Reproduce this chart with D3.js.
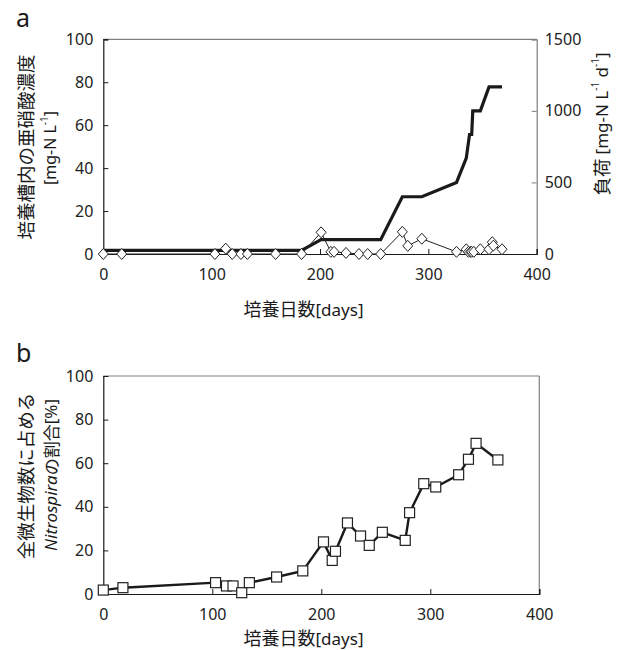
<!DOCTYPE html>
<html><head><meta charset="utf-8">
<script src="https://cdn.jsdelivr.net/npm/d3@7"></script>
<style>
body{margin:0;background:#fff;}
svg{display:block;font-family:"Noto Sans CJK JP","Noto Sans",sans-serif;}
</style></head>
<body>
<svg id="c" width="618" height="650"></svg>
<script>
// Panel a: nitrite concentration (left axis) and load (right axis)
const nitriteDays   = [0,17,103,113,119,127,133,159,183,201,210,213,224,236,244,256,276,281,294,326,335,337,339,340,342,348,356,359,360,368];
const nitriteValues = [0,0,0,2.5,0,0,0,0,0,10.1,1,1,0.5,0,0,0,10.3,3.8,7.1,1,2.2,1,1,1,1,2.2,2.2,5.5,3.9,2.2];
const loadDays   = [0,183,201,256,276,294,326,335,338,340,341,348,356,368];
const loadValues = [25,25,100,100,400,400,500,670,835,835,1000,1000,1167,1167];
// Panel b: Nitrospira share
const nsDays   = [0,18,103,113,119,127,134,159,183,202,210,213,224,236,244,256,277,281,294,305,326,335,342,362];
const nsValues = [1.8,2.9,5.2,3.7,3.7,0.6,5.2,7.8,10.6,23.9,15.4,19.6,32.6,26.6,22.3,28.3,24.6,37.3,50.6,49.1,54.7,61.8,69.1,61.5];
// Ticks
const xTicks = [0,100,200,300,400];
const yTicks = [0,20,40,60,80,100];
const yRTicks = [0,500,1000,1500];

const svg = d3.select("#c");
const FRAME = "#7f7f7f", AX = "#1a1a1a";

function styleAxis(g){
  g.select(".domain").attr("stroke",AX).attr("stroke-width",1.2);
  g.selectAll(".tick line").attr("stroke",AX).attr("stroke-width",1);
  g.selectAll(".tick text").attr("font-size",16).attr("fill","#222")
   .attr("font-family","'Noto Sans','Noto Sans CJK JP',sans-serif");
}

// ---------- Panel a ----------
const xa = d3.scaleLinear().domain([0,400]).range([103.3,536.7]);
const ya = d3.scaleLinear().domain([0,100]).range([254,39.3]);
const yr = d3.scaleLinear().domain([0,1500]).range([254,39.3]);

// frame top & right
svg.append("line").attr("x1",xa(0)).attr("x2",xa(400)).attr("y1",ya(100)).attr("y2",ya(100)).attr("stroke",FRAME).attr("stroke-width",1.2);
const gR = svg.append("g").attr("transform",`translate(${xa(400)},0)`)
  .call(d3.axisRight(yr).tickValues(yRTicks).tickSize(-5).tickPadding(8).tickFormat(d3.format("d")));
styleAxis(gR);
gR.select(".domain").attr("stroke",FRAME);
gR.selectAll(".tick line").attr("stroke",FRAME);

const gLa = svg.append("g").attr("transform",`translate(${xa(0)},0)`)
  .call(d3.axisLeft(ya).tickValues(yTicks).tickSize(-5).tickPadding(10));
styleAxis(gLa);
const gBa = svg.append("g").attr("transform",`translate(0,${ya(0)})`)
  .call(d3.axisBottom(xa).tickValues(xTicks).tickSize(-5).tickPadding(15));
styleAxis(gBa);

// load line (thick)
const loadLine = d3.line().x((d,i)=>xa(loadDays[i])).y((d,i)=>yr(loadValues[i]));
svg.append("path").datum(loadValues).attr("d",loadLine).attr("fill","none")
  .attr("stroke","#1a1a1a").attr("stroke-width",3.2).attr("stroke-linejoin","miter");

// nitrite line (thin) + diamonds
const nLine = d3.line().x((d,i)=>xa(nitriteDays[i])).y((d,i)=>ya(nitriteValues[i]));
svg.append("path").datum(nitriteValues).attr("d",nLine).attr("fill","none")
  .attr("stroke","#222").attr("stroke-width",1);
svg.append("g").selectAll("path").data(nitriteValues).join("path")
  .attr("transform",(d,i)=>`translate(${xa(nitriteDays[i])},${ya(d)})`)
  .attr("d","M0,-5.5L5,0L0,5.5L-5,0Z")
  .attr("fill","#fff").attr("stroke","#222").attr("stroke-width",1);

// ---------- Panel b ----------
const xb = d3.scaleLinear().domain([0,400]).range([103.3,539.3]);
const yb = d3.scaleLinear().domain([0,100]).range([594,376]);
svg.append("line").attr("x1",xb(0)).attr("x2",xb(400)).attr("y1",yb(100)).attr("y2",yb(100)).attr("stroke",FRAME).attr("stroke-width",1.2);
svg.append("line").attr("x1",xb(400)).attr("x2",xb(400)).attr("y1",yb(100)).attr("y2",yb(0)).attr("stroke",FRAME).attr("stroke-width",1.2);
const gLb = svg.append("g").attr("transform",`translate(${xb(0)},0)`)
  .call(d3.axisLeft(yb).tickValues(yTicks).tickSize(-5).tickPadding(10));
styleAxis(gLb);
const gBb = svg.append("g").attr("transform",`translate(0,${yb(0)})`)
  .call(d3.axisBottom(xb).tickValues(xTicks).tickSize(-5).tickPadding(15));
styleAxis(gBb);

const nsLine = d3.line().x((d,i)=>xb(nsDays[i])).y((d,i)=>yb(nsValues[i]));
svg.append("path").datum(nsValues).attr("d",nsLine).attr("fill","none")
  .attr("stroke","#1a1a1a").attr("stroke-width",2.4);
svg.append("g").selectAll("rect").data(nsValues).join("rect")
  .attr("x",(d,i)=>xb(nsDays[i])-5).attr("y",d=>yb(d)-5)
  .attr("width",10).attr("height",10)
  .attr("fill","#fff").attr("stroke","#222").attr("stroke-width",1.2);

// ---------- Text ----------
const T = "#1a1a1a";
svg.append("text").attr("x",16).attr("y",27).attr("font-size",25).attr("fill",T)
  .attr("font-family","'Noto Sans',sans-serif").text("a");
svg.append("text").attr("x",16).attr("y",362).attr("font-size",25).attr("fill",T)
  .attr("font-family","'Noto Sans',sans-serif").text("b");

function xTitle(y){
  const t = svg.append("text").attr("x",303.5).attr("y",y).attr("text-anchor","middle")
    .attr("font-size",18).attr("fill",T);
  t.append("tspan").text("培養日数");
  t.append("tspan").attr("font-family","'Noto Sans',sans-serif").attr("font-size",17).text("[days]");
}
xTitle(316);
xTitle(645);

function rot(cx,cy,size,angle){
  return svg.append("text").attr("transform",`translate(${cx},${cy}) rotate(${angle})`)
    .attr("text-anchor","middle").attr("dominant-baseline","central")
    .attr("font-size",size).attr("fill",T);
}
// panel a left title
rot(25,147,18.5,-90).text("培養槽内の亜硝酸濃度");
{
  const t = rot(50,148,16,-90).attr("font-family","'Noto Sans',sans-serif");
  t.append("tspan").text("[mg-N L");
  t.append("tspan").attr("font-size",10).attr("dy",-6).text("-1");
  t.append("tspan").attr("dy",6).text("]");
}
// panel a right title
{
  const t = rot(601,124,17,-90);
  t.append("tspan").attr("font-size",18.5).text("負荷 ");
  t.append("tspan").attr("font-family","'Noto Sans',sans-serif").text("[mg-N L");
  t.append("tspan").attr("font-family","'Noto Sans',sans-serif").attr("font-size",10).attr("dy",-6).text("-1");
  t.append("tspan").attr("font-family","'Noto Sans',sans-serif").attr("dy",6).text(" d");
  t.append("tspan").attr("font-family","'Noto Sans',sans-serif").attr("font-size",10).attr("dy",-6).text("-1");
  t.append("tspan").attr("font-family","'Noto Sans',sans-serif").attr("dy",6).text("]");
}
// panel b left title
rot(25,476,18.5,-90).text("全微生物数に占める");
{
  const t = rot(50,475,17,-90);
  t.append("tspan").attr("font-style","italic").attr("font-family","'Noto Sans',sans-serif").text("Nitrospira");
  t.append("tspan").text("の割合");
  t.append("tspan").attr("font-family","'Noto Sans',sans-serif").text("[%]");
}
</script>
</body></html>
